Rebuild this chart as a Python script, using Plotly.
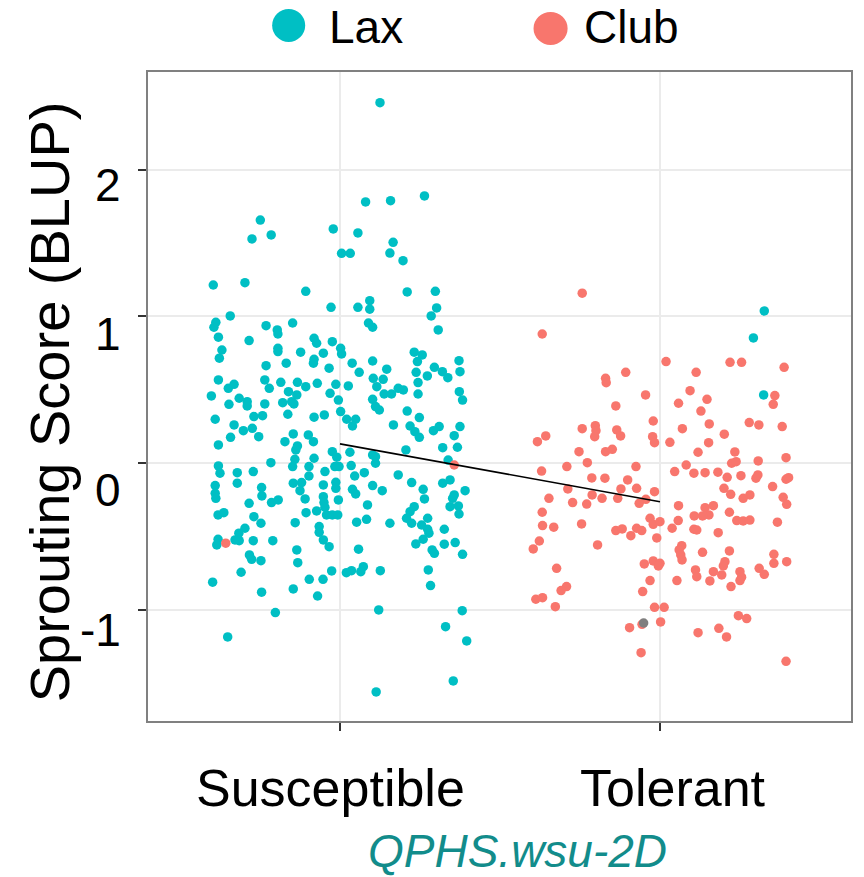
import plotly.graph_objects as go

# Lax genotypes: jittered position (1 = Susceptible, 2 = Tolerant) and BLUP score
lax_x = [
    1.125, 1.080, 1.158, 1.264, 0.751, 0.725, 0.785, 0.979, 1.056, 1.166, 1.005, 1.032,
    1.156, 1.197, 0.604, 0.703, 0.893, 1.210, 1.298, 0.972, 1.056, 1.093, 1.093, 1.302,
    1.285, 0.657, 0.612, 0.606, 0.769, 0.852, 1.089, 1.102, 1.307, 0.804,
    0.620, 0.806, 0.716, 0.919, 0.927, 0.976, 1.002, 1.005, 0.631, 0.623, 0.806, 0.806,
    0.877, 0.948, 0.919, 0.917, 0.769, 0.832, 0.966, 1.038, 1.060, 1.102, 1.146, 1.232,
    1.257, 1.242, 1.238, 1.295, 1.320, 1.337, 1.273, 1.372, 1.375, 0.620, 0.669, 0.651,
    0.765, 0.779, 0.815, 0.867, 0.893, 0.929, 0.987, 1.026, 0.969, 0.995, 1.002, 0.839,
    0.865, 0.849, 0.856, 0.598, 0.653, 0.685, 0.710, 0.710, 0.765, 0.821, 0.837, 0.731,
    0.758, 0.610, 0.669, 0.698, 0.726, 0.746, 0.658, 0.620, 0.919, 0.951, 0.828, 0.854,
    0.901, 0.917, 0.867, 0.862, 0.976, 0.919, 0.859, 0.784, 0.990, 0.997, 0.984, 0.903,
    0.852, 0.620, 0.625, 0.679, 0.729, 0.679, 0.610, 0.610, 0.612, 0.755, 0.756, 0.786,
    0.807, 0.716, 0.854, 0.880, 0.903, 0.875, 0.891, 0.953, 0.948, 0.987, 0.987, 0.948,
    0.950, 0.995, 1.031, 1.035, 1.046, 1.076, 1.039, 1.049, 1.102, 1.132, 1.086, 1.102,
    1.111, 1.111, 1.102, 1.111, 1.123, 1.104, 1.135, 1.115, 1.138, 1.161, 1.182, 1.198,
    1.244, 1.244, 1.021, 1.049, 1.039, 1.167, 1.210, 1.248, 1.219, 1.234, 1.248, 1.292,
    1.310, 1.373, 1.383, 1.375, 1.357, 1.321, 1.367, 1.206, 1.338, 1.321, 1.344, 1.182,
    1.224, 1.260, 1.264, 1.391, 1.357, 1.352, 1.370, 1.344, 1.232, 1.219,
    0.619, 0.637, 0.731, 0.753, 0.703, 0.684, 0.685, 0.672, 0.619, 0.615, 0.729, 0.790,
    0.717, 0.724, 0.753, 0.691, 0.602, 0.755, 0.798, 0.649, 0.860, 0.894, 0.927, 0.953,
    0.958, 0.976, 0.993, 0.935, 0.935, 0.948, 0.966, 0.865, 0.868, 0.974, 0.904, 0.947,
    0.854, 0.930, 1.020, 1.036, 1.065, 1.073, 1.126, 1.058, 1.052, 1.083, 1.156, 1.208,
    1.224, 1.255, 1.274, 1.274, 1.278, 1.260, 1.237, 1.288, 1.295, 1.326, 1.326, 1.360,
    1.383, 1.372, 1.276, 1.283, 1.121, 1.382, 1.330, 1.396, 1.354, 1.113,
    2.326, 2.292, 2.324,
]
lax_y = [
    2.456, 1.779, 1.788, 1.820, 1.656, 1.527, 1.554, 1.595, 1.568, 1.504, 1.429, 1.429,
    1.431, 1.379, 1.213, 1.229, 1.170, 1.166, 1.170, 1.061, 1.061, 1.106, 1.048, 1.057,
    1.002, 1.002, 0.959, 0.925, 0.936, 0.954, 0.954, 0.925, 0.907, 0.907,
    0.857, 0.879, 0.834, 0.850, 0.816, 0.827, 0.782, 0.743, 0.770, 0.714, 0.782, 0.759,
    0.755, 0.748, 0.707, 0.680, 0.663, 0.680, 0.646, 0.680, 0.618, 0.695, 0.639, 0.755,
    0.736, 0.691, 0.618, 0.652, 0.622, 0.581, 0.593, 0.697, 0.622, 0.566, 0.536, 0.509,
    0.566, 0.509, 0.550, 0.550, 0.520, 0.543, 0.536, 0.525, 0.475, 0.429, 0.350, 0.486,
    0.464, 0.418, 0.402, 0.457, 0.400, 0.441, 0.418, 0.389, 0.402, 0.411, 0.332, 0.316,
    0.322, 0.298, 0.259, 0.220, 0.236, 0.179, 0.175, 0.123, 0.312, 0.327, 0.145, 0.198,
    0.191, 0.145, 0.116, 0.089, 0.077, 0.032, 0.025, 0.002, 0.039, -0.025, -0.025, -0.025,
    -0.025, -0.020, -0.070, -0.066, -0.059, -0.138, -0.154, -0.207, -0.241, -0.168, -0.225, -0.270,
    -0.252, -0.275, -0.138, -0.134, -0.089, -0.189, -0.245, -0.059, -0.150, -0.132, -0.173, -0.230,
    -0.270, -0.252, 0.073, -0.018, -0.089, -0.066, -0.180, -0.211, -0.154, -0.189, -0.286, 0.055,
    0.043, -0.002, 0.434, 0.384, 0.361, 0.577, 0.570, 0.520, 0.470, 0.470, 0.509, 0.498,
    0.548, 0.470, 0.298, 0.298, 0.252, 0.259, 0.354, 0.309, 0.252, 0.213, 0.175, 0.220,
    0.248, 0.486, 0.429, 0.248, 0.186, 0.104, 0.107, 0.089, 0.020, -0.138, -0.116, -0.082,
    -0.134, -0.180, -0.245, -0.189, -0.218, -0.241, -0.293, -0.298, -0.298, -0.332,
    -0.354, -0.339, -0.366, -0.411, -0.445, -0.479, -0.530, -0.525, -0.520, -0.559, -0.530, -0.530,
    -0.627, -0.657, -0.666, -0.745, -0.813, -0.881, -1.020, -1.186, -0.407, -0.339, -0.327, -0.302,
    -0.354, -0.354, -0.354, -0.434, -0.473, -0.525, -0.571, -0.593, -0.680, -0.736, -0.793, -0.793,
    -0.859, -0.907, -0.748, -0.734, -0.741, -0.707, -0.734, -0.588, -0.404, -0.384, -0.411, -0.377,
    -0.411, -0.423, -0.377, -0.452, -0.479, -0.520, -0.552, -0.593, -0.616, -0.452, -0.554, -0.543,
    -0.623, -0.348, -0.729, -0.836, -1.002, -1.007, -1.116, -1.213, -1.486, -1.561,
    1.036, 0.852, 0.464,
]

# Club genotypes
club_x = [
    0.643, 1.357,
    1.757, 1.632, 2.019, 2.219, 2.255, 2.388, 1.893, 2.113, 1.830, 1.832, 2.094, 1.955,
    2.147, 2.058, 1.862, 2.128, 2.359, 2.354, 1.979, 2.154, 2.279, 2.309, 2.382, 2.070,
    1.757, 1.798, 1.800, 1.796, 1.865, 1.877, 1.643, 1.617, 1.977, 1.983, 2.031, 2.201,
    2.152, 1.747, 1.830, 1.851, 2.119, 2.234, 2.394, 1.773, 2.224, 2.238, 2.307,
    1.709, 1.925, 2.082, 1.630, 2.046, 2.106, 2.141, 2.181, 2.253, 2.300, 2.306, 2.210,
    1.787, 1.828, 1.899, 2.394, 2.402, 1.712, 1.878, 1.927, 1.983, 1.956, 1.935, 1.788,
    1.819, 1.868, 1.771, 1.727, 1.653, 2.200, 2.221, 2.281, 2.260, 2.352, 2.385, 2.396,
    2.058, 2.141, 2.167, 2.153, 2.133, 2.107, 2.217, 1.632, 1.969, 1.979, 2.000, 2.057,
    2.038, 2.240, 2.281, 2.260, 2.367, 1.755, 1.633, 1.668, 1.862, 1.882, 1.909, 1.927,
    1.943, 1.990, 2.106, 2.115, 2.182, 1.623, 1.604, 1.805, 2.068, 2.060, 2.065, 2.069,
    2.133, 2.217, 2.356, 2.356, 2.396, 2.203, 2.198, 1.951, 1.979, 2.000, 1.995, 2.111,
    2.115, 2.167, 2.193, 2.156, 2.250, 2.255, 2.250, 2.222, 2.310, 2.326, 2.053, 1.677,
    1.708, 1.691, 1.969, 1.946, 1.612, 1.633, 1.673, 1.983, 2.013, 2.245, 2.271, 1.905,
    1.944, 2.002, 2.119, 2.184, 2.208, 1.941, 2.394,
]
club_y = [
    -0.547, -0.014,
    1.157, 0.879, 0.691, 0.686, 0.686, 0.652, 0.618, 0.618, 0.577, 0.547, 0.493, 0.464,
    0.434, 0.407, 0.389, 0.354, 0.459, 0.400, 0.286, 0.266, 0.275, 0.259, 0.248, 0.234,
    0.234, 0.254, 0.220, 0.179, 0.225, 0.184, 0.184, 0.145, 0.179, 0.138, 0.141, 0.196,
    0.138, 0.077, 0.077, 0.093, 0.073, 0.075, 0.036, 0.002, -0.002, 0.009, 0.014,
    -0.025, -0.025, -0.014, -0.055, -0.059, -0.070, -0.066, -0.063, -0.087, -0.104, -0.082, -0.098,
    -0.102, -0.104, -0.116, -0.111, -0.100, -0.177, -0.177, -0.173, -0.196, -0.248, -0.275, -0.218,
    -0.241, -0.241, -0.280, -0.270, -0.241, -0.173, -0.214, -0.218, -0.241, -0.161, -0.234, -0.282,
    -0.291, -0.305, -0.291, -0.354, -0.361, -0.361, -0.336, -0.336, -0.377, -0.418, -0.400, -0.393,
    -0.445, -0.393, -0.389, -0.395, -0.404, -0.416, -0.427, -0.438, -0.461, -0.450, -0.496, -0.445,
    -0.461, -0.511, -0.452, -0.457, -0.475, -0.532, -0.586, -0.559, -0.564, -0.593, -0.627, -0.661,
    -0.609, -0.600, -0.623, -0.684, -0.673, -0.673, -0.702, -0.688, -0.668, -0.684, -0.702, -0.729,
    -0.775, -0.741, -0.763, -0.804, -0.741, -0.779, -0.802, -0.843, -0.718, -0.759, -0.802, -0.718,
    -0.843, -0.870, -0.802, -0.877, -0.929, -0.918, -0.980, -0.984, -0.984, -1.041, -1.061, -1.123,
    -1.100, -1.084, -1.157, -1.127, -1.186, -1.293, -1.352,
]

# Genotype without a class assignment
other_x = [1.949]
other_y = [-1.091]

# Fitted line between the two haplotype classes
fit_x = [1, 2]
fit_y = [0.130, -0.264]

categories = ["Susceptible", "Tolerant"]
y_tick_values = [2, 1, 0, -1]
y_tick_text = ["2", "1", "0", "-1"]
# where the tick text is printed along the score axis
y_tick_text_pos = [1.895, 0.879, -0.184, -1.138]

TEAL = "#00BFC4"
SALMON = "#F8766D"
FONT = "Liberation Sans, Arial, sans-serif"

fig = go.Figure()
fig.add_trace(go.Scatter(x=lax_x, y=lax_y, mode="markers", name="Lax",
                         marker=dict(color=TEAL, size=9.5, line=dict(width=0)),
                         showlegend=False))
fig.add_trace(go.Scatter(x=club_x, y=club_y, mode="markers", name="Club",
                         marker=dict(color=SALMON, size=9.5, line=dict(width=0)),
                         showlegend=False))
fig.add_trace(go.Scatter(x=other_x, y=other_y, mode="markers", name="NA",
                         marker=dict(color="#7F7F7F", size=9.5, line=dict(width=0)),
                         showlegend=False))
fig.add_trace(go.Scatter(x=fit_x, y=fit_y, mode="lines",
                         line=dict(color="black", width=1.6), showlegend=False))

annotations = []
# score axis tick text
for v, t in zip(y_tick_text_pos, y_tick_text):
    annotations.append(dict(x=-0.036, xref="paper", y=v, yref="y", text=t,
                            showarrow=False, xanchor="right", yanchor="middle",
                            font=dict(family=FONT, size=46, color="black")))
# category labels
cat_pos = [0.97, 2.04]
for c, xp in zip(categories, cat_pos):
    annotations.append(dict(x=xp, xref="x", y=-0.103, yref="paper", text=c,
                            showarrow=False, xanchor="center", yanchor="middle",
                            font=dict(family=FONT, size=52, color="black")))
annotations.append(dict(x=0.525, xref="paper", y=-0.200, yref="paper",
                        text="<i>QPHS.wsu-2D</i>", showarrow=False,
                        xanchor="center", yanchor="middle",
                        font=dict(family=FONT, size=46, color="#128C8B")))
annotations.append(dict(x=-0.140, xref="paper", y=0.492, yref="paper",
                        text="Sprouting Score (BLUP)", textangle=-90, showarrow=False,
                        xanchor="center", yanchor="middle",
                        font=dict(family=FONT, size=56, color="black")))
# legend entries
annotations.append(dict(x=0.254, xref="paper", y=1.069, yref="paper", text="Lax",
                        showarrow=False, xanchor="left", yanchor="middle",
                        font=dict(family=FONT, size=46, color="black")))
annotations.append(dict(x=0.617, xref="paper", y=1.069, yref="paper", text="Club",
                        showarrow=False, xanchor="left", yanchor="middle",
                        font=dict(family=FONT, size=46, color="black")))

shapes = [
    dict(type="circle", xref="paper", yref="paper", x0=0.1766, x1=0.2236,
         y0=1.0463, y1=1.0972, fillcolor=TEAL, line=dict(width=0)),
    dict(type="circle", xref="paper", yref="paper", x0=0.5484, x1=0.5969,
         y0=1.0417, y1=1.0926, fillcolor=SALMON, line=dict(width=0)),
]

fig.update_layout(
    width=864, height=877,
    margin=dict(l=148, r=13, t=72, b=156),
    paper_bgcolor="white", plot_bgcolor="white",
    showlegend=False,
    annotations=annotations,
    shapes=shapes,
    xaxis=dict(range=[0.4, 2.597], tickvals=[1, 2], showticklabels=False,
               ticks="outside", ticklen=8, tickwidth=1.5, tickcolor="#333333",
               showgrid=True, gridcolor="#EBEBEB", gridwidth=2, zeroline=False,
               showline=True, linecolor="#808080", linewidth=1.5, mirror=True),
    yaxis=dict(range=[-1.759, 2.665], tickvals=y_tick_values, showticklabels=False,
               ticks="outside", ticklen=8, tickwidth=1.5, tickcolor="#333333",
               showgrid=True, gridcolor="#EBEBEB", gridwidth=2, zeroline=False,
               showline=True, linecolor="#808080", linewidth=1.5, mirror=True),
)

fig.write_html("out.html")
